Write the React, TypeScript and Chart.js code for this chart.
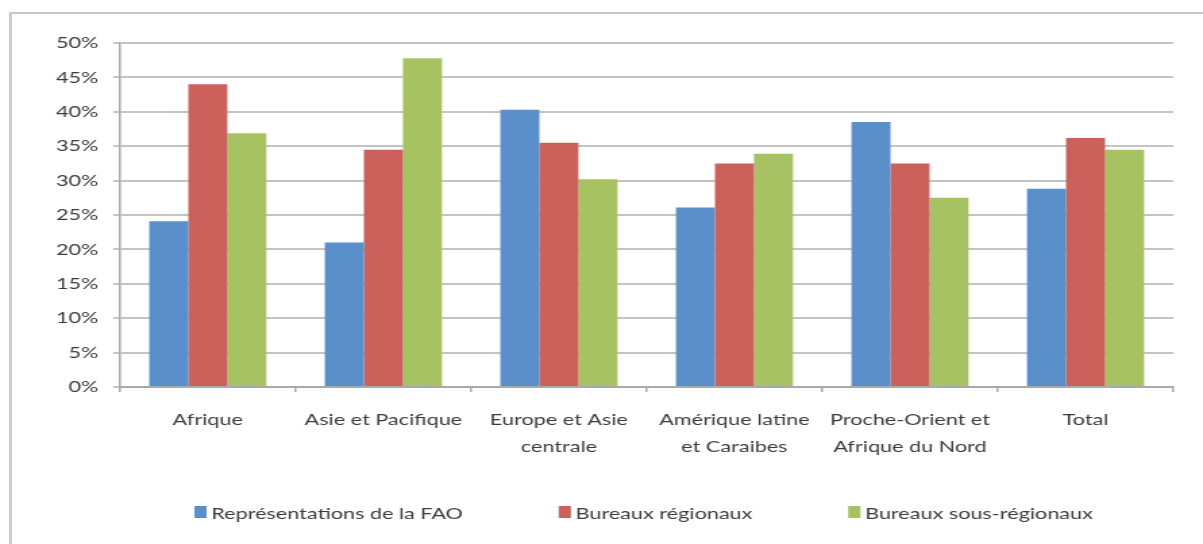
import React, { useEffect, useRef } from 'react';
import { Chart, registerables } from 'chart.js';

Chart.register(...registerables);

// Regions shown along the horizontal axis (multi-line labels as arrays)
const categories: (string | string[])[] = [
  'Afrique',
  'Asie et Pacifique',
  ['Europe et Asie', 'centrale'],
  ['Amérique latine', 'et Caraibes'],
  ['Proche-Orient et', 'Afrique du Nord'],
  'Total',
];

const seriesNames = ['Représentations de la FAO', 'Bureaux régionaux', 'Bureaux sous-régionaux'];

// Shares in percent, per region
const faoOffices = [24.1, 21.0, 40.3, 26.1, 38.5, 28.8];
const regionalOffices = [44.0, 34.5, 35.5, 32.5, 32.5, 36.2];
const subregionalOffices = [36.9, 47.8, 30.2, 33.9, 27.5, 34.5];

const seriesColors = ['#5b8fc9', '#cc615c', '#a6c263'];

const yMin = 0;
const yMax = 50;
const yStep = 5;

// The drawing is laid out on a narrower canvas and widened horizontally.
const PAGE_W = 1203;
const PAGE_H = 544;
const CANVAS_W = 891;
const STRETCH = PAGE_W / CANVAS_W;

const FONT_FAMILY = 'Lato, "Open Sans", sans-serif';
const TEXT_COLOR = '#3b3b3b';

// Legend row geometry (canvas units)
const LEGEND_X = 144;
const LEGEND_BOX_TOP = 506;
const LEGEND_BOX_W = 9;
const LEGEND_BOX_H = 12;
const LEGEND_TEXT_OFFSET = 12.5;
const LEGEND_BASELINE = 519;
const LEGEND_GAP = 71;

// Draws the series legend as one widely spaced row under the axis labels
const spacedLegend = {
  id: 'spacedLegend',
  afterDraw(chart: any) {
    const ctx: CanvasRenderingContext2D = chart.ctx;
    ctx.save();
    ctx.font = `16px ${FONT_FAMILY}`;
    ctx.textAlign = 'left';
    ctx.textBaseline = 'alphabetic';
    let x = LEGEND_X;
    chart.data.datasets.forEach((ds: any) => {
      ctx.fillStyle = ds.backgroundColor;
      ctx.fillRect(x, LEGEND_BOX_TOP, LEGEND_BOX_W, LEGEND_BOX_H);
      ctx.fillStyle = TEXT_COLOR;
      ctx.fillText(ds.label, x + LEGEND_TEXT_OFFSET, LEGEND_BASELINE);
      x += LEGEND_TEXT_OFFSET + ctx.measureText(ds.label).width + LEGEND_GAP;
    });
    ctx.restore();
  },
};

export default function App() {
  const canvasRef = useRef<HTMLCanvasElement>(null);

  useEffect(() => {
    const canvas = canvasRef.current;
    if (!canvas) return;
    const values = [faoOffices, regionalOffices, subregionalOffices];
    const chart = new Chart(canvas, {
      type: 'bar',
      data: {
        labels: categories,
        datasets: values.map((data, i) => ({
          label: seriesNames[i],
          data,
          backgroundColor: seriesColors[i],
          borderWidth: 0,
          categoryPercentage: 0.667,
          barPercentage: 1.0,
        })),
      },
      options: {
        animation: false,
        responsive: true,
        maintainAspectRatio: false,
        layout: { padding: { left: 0, right: 22, top: 43, bottom: 0 } },
        plugins: {
          legend: { display: false },
          tooltip: { enabled: false },
        },
        scales: {
          x: {
            grid: {
              offset: true,
              drawOnChartArea: false,
              drawTicks: true,
              tickLength: 5,
              color: '#a9a9a9',
              lineWidth: 1.5,
            },
            border: { color: '#a9a9a9', width: 2 },
            ticks: {
              color: TEXT_COLOR,
              font: { family: FONT_FAMILY, size: 16, lineHeight: '27px' },
              padding: 14,
              maxRotation: 0,
              autoSkip: false,
            },
            afterFit: (scale: any) => {
              scale.height = 157;
            },
          },
          y: {
            min: yMin,
            max: yMax,
            ticks: {
              stepSize: yStep,
              padding: 11,
              color: TEXT_COLOR,
              font: { family: FONT_FAMILY, size: 16 },
              callback: (v: any) => `${v}%`,
            },
            grid: { color: '#c4c4c4', lineWidth: 2, tickLength: 5 },
            border: { color: '#a9a9a9', width: 1.5 },
            afterFit: (scale: any) => {
              scale.width = 88.9;
            },
          },
        },
      },
      plugins: [spacedLegend],
    });
    return () => chart.destroy();
  }, []);

  return (
    <div
      style={{
        position: 'absolute',
        left: 0,
        top: 0,
        width: PAGE_W,
        height: PAGE_H,
        overflow: 'hidden',
        background: '#ffffff',
      }}
    >
      <div
        style={{
          position: 'absolute',
          left: 9,
          top: 12,
          right: -6,
          bottom: -6,
          borderTop: '2px solid #c8c8c8',
          borderLeft: '3px solid #cdcdcd',
        }}
      />
      <div
        style={{
          position: 'absolute',
          left: 0,
          top: 0,
          width: CANVAS_W,
          height: PAGE_H,
          transform: `scaleX(${STRETCH})`,
          transformOrigin: '0 0',
        }}
      >
        <canvas ref={canvasRef} />
      </div>
    </div>
  );
}
